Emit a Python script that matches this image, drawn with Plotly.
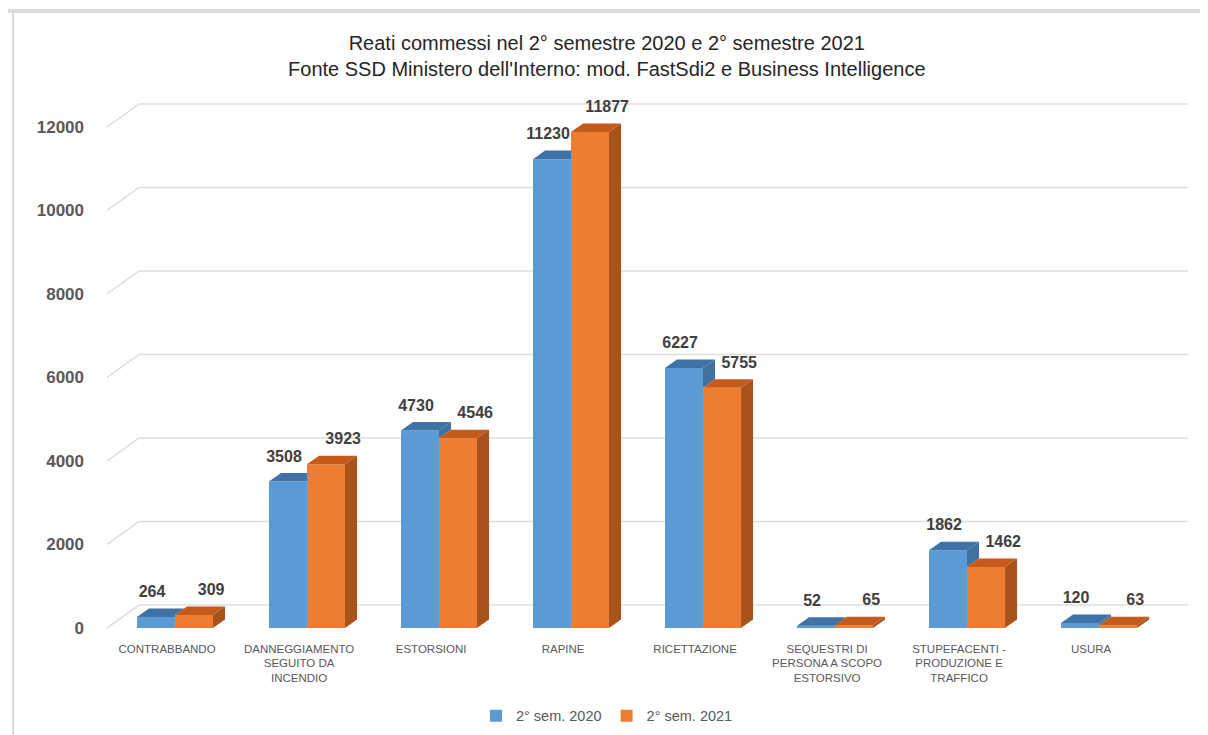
import plotly.graph_objects as go

categories = [
    "CONTRABBANDO",
    "DANNEGGIAMENTO<br>SEGUITO DA<br>INCENDIO",
    "ESTORSIONI",
    "RAPINE",
    "RICETTAZIONE",
    "SEQUESTRI DI<br>PERSONA A SCOPO<br>ESTORSIVO",
    "STUPEFACENTI -<br>PRODUZIONE E<br>TRAFFICO",
    "USURA",
]
sem_2020 = [264, 3508, 4730, 11230, 6227, 52, 1862, 120]
sem_2021 = [309, 3923, 4546, 11877, 5755, 65, 1462, 63]
y_ticks = [0, 2000, 4000, 6000, 8000, 10000, 12000]
series_names = ["2° sem. 2020", "2° sem. 2021"]

BLUE, BLUE_TOP, BLUE_SIDE = "#5B9BD5", "#3F72A6", "#41719C"
ORANGE, ORANGE_TOP, ORANGE_SIDE = "#ED7D31", "#C55A1A", "#A9531B"
GRID = "#DEDEDE"
TEXT = "#595959"

# geometry of the fake 3d look (data units)
W = 0.288      # width of one bar
DX = 0.091     # depth, horizontal
DY = 205       # depth, vertical
GDX = 0.242    # wall depth for the gridlines
GDY = 550
X_RANGE = [-0.515, 7.674]
Y_RANGE = [-287, 12766]

xs = list(range(len(categories)))


def poly(points_list):
    px, py = [], []
    for pts in points_list:
        for x, y in pts:
            px.append(x)
            py.append(y)
        px.append(None)
        py.append(None)
    return px, py


blue_top, blue_side, orange_top, orange_side = [], [], [], []
for c, vb, vo in zip(xs, sem_2020, sem_2021):
    # blue box (left of c)
    if vo <= vb:
        blue_top.append([(c - W, vb), (c - W + DX, vb + DY), (c + DX, vb + DY), (c, vb)])
        blue_side.append([(c, vo), (c + DX, vo + DY), (c + DX, vb + DY), (c, vb)])
    else:
        xe = c + max(0, vb + DY - vo) * DX / DY
        blue_top.append([(c - W, vb), (c - W + DX, vb + DY), (xe, vb + DY),
                         (c, min(vo, vb + DY)), (c, vb)])
    # orange box (right of c)
    orange_top.append([(c, vo), (c + DX, vo + DY), (c + W + DX, vo + DY), (c + W, vo)])
    orange_side.append([(c + W, 0), (c + W + DX, DY), (c + W + DX, vo + DY), (c + W, vo)])

fig = go.Figure()

fig.add_trace(go.Bar(x=xs, y=sem_2020, name=series_names[0], width=W, offset=-W,
                     marker=dict(color=BLUE, line_width=0), hoverinfo="y"))
fig.add_trace(go.Bar(x=xs, y=sem_2021, name=series_names[1], width=W, offset=0,
                     marker=dict(color=ORANGE, line_width=0), hoverinfo="y"))

for faces, color in [(blue_top, BLUE_TOP), (blue_side, BLUE_SIDE),
                     (orange_top, ORANGE_TOP), (orange_side, ORANGE_SIDE)]:
    px, py = poly(faces)
    fig.add_trace(go.Scatter(x=px, y=py, mode="lines", fill="toself", fillcolor=color,
                             line=dict(width=0, color=color), showlegend=False,
                             hoverinfo="skip"))

label_up = 575
label_font = dict(family="Liberation Sans", size=16, color="#404040", weight="bold")
fig.add_trace(go.Scatter(
    x=[c - W / 2 - 0.03 for c in xs], y=[v + label_up for v in sem_2020],
    text=[str(v) for v in sem_2020], mode="text", textposition="middle center",
    textfont=label_font, showlegend=False, hoverinfo="skip"))
fig.add_trace(go.Scatter(
    x=[c + W / 2 + 0.13 for c in xs], y=[v + label_up for v in sem_2021],
    text=[str(v) for v in sem_2021], mode="text", textposition="middle center",
    textfont=label_font, showlegend=False, hoverinfo="skip"))

shapes = []
for v in y_ticks:
    shapes.append(dict(type="line", xref="x", yref="y", layer="below",
                       x0=X_RANGE[0], y0=v, x1=X_RANGE[0] + GDX, y1=v + GDY,
                       line=dict(color=GRID, width=1.5)))
    shapes.append(dict(type="line", xref="x", yref="y", layer="below",
                       x0=X_RANGE[0] + GDX, y0=v + GDY, x1=X_RANGE[1], y1=v + GDY,
                       line=dict(color=GRID, width=1.5)))

# frame of the original chart box
shapes.append(dict(type="line", xref="paper", yref="paper", x0=-0.1, x1=1.03,
                   y0=1.154, y1=1.154, line=dict(color="#DCDCDC", width=4)))
shapes.append(dict(type="line", xref="paper", yref="paper", x0=-0.087, x1=-0.087,
                   y0=1.154, y1=-0.2, line=dict(color="#D9D9D9", width=2)))

# the page body adds an 8px offset, so the figure is 8px smaller each way
fig.update_layout(
    width=1200,
    height=727,
    margin=dict(l=99, r=20, t=87, b=95, autoexpand=False),
    paper_bgcolor="white",
    plot_bgcolor="white",
    barmode="overlay",
    shapes=shapes,
    title=dict(
        text="Reati commessi nel 2° semestre 2020 e 2° semestre 2021<br>"
             "Fonte SSD Ministero dell'Interno: mod. FastSdi2 e Business Intelligence",
        x=0.499, xanchor="center", xref="container",
        y=0.942, yanchor="middle", yref="container",
        font=dict(family="Liberation Sans", size=20, color="#262626"),
    ),
    legend=dict(
        orientation="h", x=0.4625, xanchor="center", y=-0.139, yanchor="middle",
        font=dict(family="Liberation Sans", size=14.5, color=TEXT),
        itemwidth=30, traceorder="normal",
    ),
    xaxis=dict(
        range=X_RANGE,
        tickvals=[c - 0.06 for c in xs],
        ticktext=categories,
        tickfont=dict(family="Liberation Sans", size=11.5, color=TEXT),
        showgrid=False, zeroline=False, showline=False,
        ticklabelstandoff=0,
    ),
    yaxis=dict(
        range=Y_RANGE,
        tickvals=y_ticks,
        tickformat="d",
        tickfont=dict(family="Liberation Sans", size=17, color=TEXT, weight="bold"),
        showgrid=False, zeroline=False, showline=False,
        ticklabelstandoff=22,
    ),
    hovermode="closest",
)

fig.write_html("out.html")
